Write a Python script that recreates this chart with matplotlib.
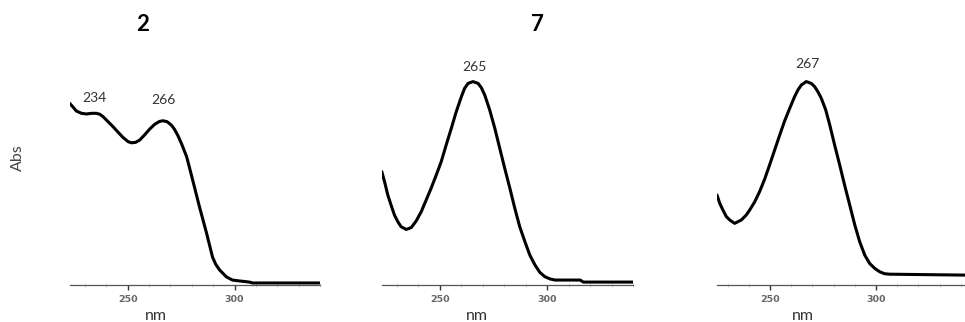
import matplotlib
matplotlib.use("Agg")
import matplotlib.pyplot as plt
from matplotlib.ticker import MultipleLocator

plt.rcParams['font.family'] = ['Lato', 'DejaVu Sans']

# UV spectra, wavelength (nm) vs normalised absorbance
nm_2 = [222.9, 224.5, 226.0, 228.4, 230.7, 233.0, 235.4, 236.9, 238.5, 240.8,
        243.1, 245.5, 247.8, 250.2, 251.7, 253.7, 255.6, 257.9, 260.3, 262.6,
        264.9, 266.5, 268.4, 270.4, 271.9, 273.5, 275.1, 277.6, 280.4, 283.6,
        286.9, 289.7, 291.2, 293.0, 296.2, 299.0, 302.3, 307.0, 308.4, 339.7]
abs_2 = [0.807, 0.790, 0.773, 0.763, 0.760, 0.763, 0.763, 0.759, 0.748, 0.726,
         0.704, 0.679, 0.656, 0.637, 0.632, 0.634, 0.644, 0.667, 0.693, 0.714,
         0.727, 0.730, 0.726, 0.711, 0.692, 0.664, 0.630, 0.570, 0.467, 0.347,
         0.231, 0.124, 0.092, 0.067, 0.036, 0.022, 0.018, 0.013, 0.009, 0.009]

nm_7 = [222.9, 224.2, 225.7, 227.3, 228.8, 230.4, 231.9, 234.3, 236.6, 238.9,
        241.3, 243.6, 245.9, 248.3, 250.6, 252.9, 255.3, 257.6, 260.0, 261.5,
        263.1, 265.4, 267.8, 269.3, 270.9, 273.2, 275.6, 277.9, 280.2, 282.6,
        284.9, 287.2, 289.6, 291.9, 294.3, 296.6, 298.9, 301.3, 303.6, 315.4,
        316.8, 340.2]
abs_7 = [0.504, 0.459, 0.400, 0.353, 0.311, 0.281, 0.259, 0.247, 0.255, 0.284,
         0.326, 0.378, 0.430, 0.489, 0.548, 0.622, 0.696, 0.770, 0.837, 0.874,
         0.896, 0.904, 0.896, 0.877, 0.844, 0.778, 0.696, 0.607, 0.519, 0.430,
         0.341, 0.259, 0.193, 0.133, 0.089, 0.056, 0.037, 0.027, 0.022, 0.022,
         0.013, 0.013]

nm_3 = [225.0, 226.3, 227.8, 229.4, 231.0, 233.3, 236.5, 238.8, 240.4, 242.8,
        245.1, 247.5, 249.8, 252.2, 254.6, 256.9, 259.3, 261.6, 263.2, 264.8,
        267.1, 269.5, 271.1, 272.6, 274.2, 276.3, 278.2, 280.5, 282.9, 285.2,
        287.6, 290.0, 292.3, 294.7, 297.0, 299.4, 301.7, 304.1, 306.5, 342.0]
abs_3 = [0.400, 0.363, 0.333, 0.304, 0.289, 0.274, 0.289, 0.311, 0.333, 0.370,
         0.415, 0.471, 0.533, 0.600, 0.667, 0.729, 0.785, 0.837, 0.867, 0.889,
         0.904, 0.896, 0.881, 0.859, 0.830, 0.778, 0.711, 0.622, 0.533, 0.444,
         0.356, 0.267, 0.193, 0.133, 0.096, 0.074, 0.059, 0.050, 0.048, 0.044]

titles = ['2', '7', '']
peak_labels = [[('234', 234.4, 0.829), ('266', 266.6, 0.822)],
               [('265', 266.1, 0.969)],
               [('267', 267.7, 0.982)]]
xlims = [(223, 340), (223, 340), (225, 342)]

W, H = 965, 322
fig = plt.figure(figsize=(W / 100, H / 100), dpi=100)

# axes boxes in pixels: left, right
boxes = [(70, 320), (382, 633), (717, 965)]
top_px, bottom_px = 60, 285
series = [(nm_2, abs_2), (nm_7, abs_7), (nm_3, abs_3)]
label_x = [0.345, 0.378, 0.347]

for i, ((l, r), (x, y)) in enumerate(zip(boxes, series)):
    ax = fig.add_axes([l / W, 1 - bottom_px / H, (r - l) / W, (bottom_px - top_px) / H])
    ax.plot(x, y, color='black', lw=2.2, solid_joinstyle='round', solid_capstyle='round')
    ax.set_xlim(*xlims[i])
    ax.set_ylim(0, 1)
    for s in ['top', 'right', 'left']:
        ax.spines[s].set_visible(False)
    ax.spines['bottom'].set_color('#555555')
    ax.spines['bottom'].set_linewidth(0.9)
    ax.set_yticks([])
    ax.xaxis.set_major_locator(MultipleLocator(50))
    ax.xaxis.set_minor_locator(MultipleLocator(10))
    ax.tick_params(axis='x', which='major', direction='out', length=3.5, width=1,
                   color='#333333', labelsize=6.8, labelcolor='#666666', pad=4)
    ax.tick_params(axis='x', which='minor', direction='inout', length=2.5, width=0.6,
                   color='#cccccc')
    for t in ax.get_xticklabels():
        t.set_fontweight('bold')
        t.set_family(['DejaVu Sans'])
    ax.set_xlabel('nm', fontsize=11.5, color='#333333', va='baseline')
    ax.xaxis.set_label_coords(label_x[i], -0.155)
    for txt, px, py in peak_labels[i]:
        ax.text(px, py, txt, ha='center', va='center', fontsize=10,
                color='#333333', clip_on=False)

fig.text(143 / W, 1 - 24.5 / H, titles[0], ha='center', va='center',
         fontsize=16, fontweight='bold')
fig.text(537 / W, 1 - 24.5 / H, titles[1], ha='center', va='center',
         fontsize=16, fontweight='bold')
fig.text(18 / W, 1 - 158 / H, 'Abs', ha='center', va='center', rotation=90,
         fontsize=11.5, color='#444444')

fig.savefig('out.png', dpi=100, facecolor='white')
